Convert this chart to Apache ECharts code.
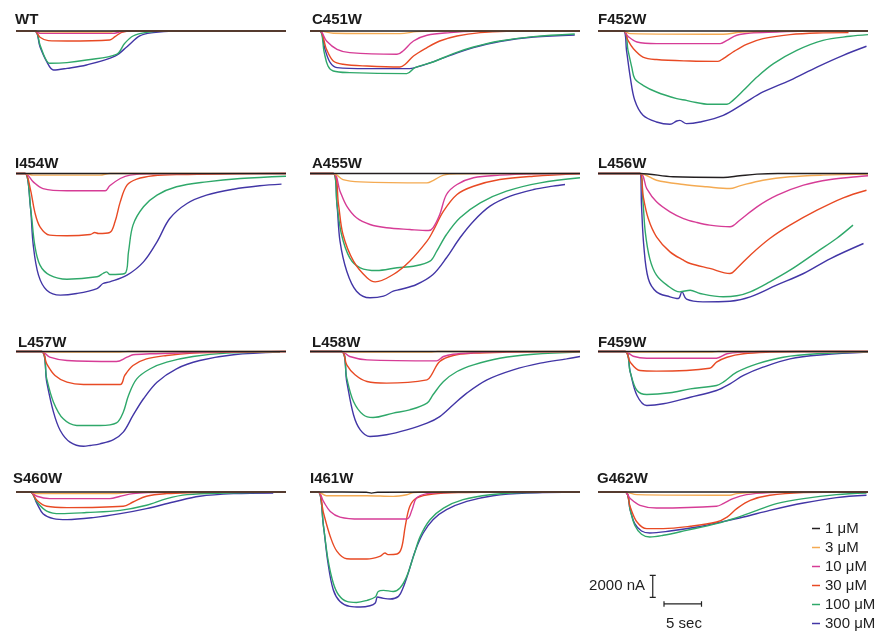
<!DOCTYPE html>
<html>
<head>
<meta charset="utf-8">
<script src="https://cdn.jsdelivr.net/npm/echarts@6/dist/echarts.min.js"></script>
<style>
html, body { margin: 0; padding: 0; background: #fff; }
#main { width: 896px; height: 640px; }
</style>
</head>
<body>
<div id="main"></div>
<script>
// concentrations and trace colours
var concs = ['1 μM', '3 μM', '10 μM', '30 μM', '100 μM', '300 μM'];
var colors = ['#231f20', '#f4aa52', '#d63c96', '#e84a24', '#2fa86a', '#4236a6'];

var panelNames = ['WT', 'C451W', 'F452W', 'I454W', 'A455W', 'L456W',
                  'L457W', 'L458W', 'F459W', 'S460W', 'I461W', 'G462W'];

// each panel: [1, 3, 10, 30, 100, 300 uM] traces as [time (s), current (nA)]
var WT = [
    [[36, 0]],
    [[2.5, 0], [3.2, -80], [12.5, -90], [13.5, 0], [36, 0]],
    [[2.5, 0], [3.2, -200], [12.9, -220], [14.0, -60], [14.8, 0], [36, 0]],
    [[2.5, 0], [3.2, -570], [4.3, -880], [6.8, -910], [12.5, -820], [13.2, -520], [14.1, -120], [15.6, 0], [36, 0]],
    [[2.5, 0], [3.2, -1270], [3.9, -2480], [4.5, -2940], [6.8, -2880], [9.4, -2640], [13.4, -2120], [14.5, -1120], [15.6, -455], [17.4, -120], [20.1, 0], [36, 0]],
    [[2.5, 0], [3.2, -1430], [4.1, -2790], [5.0, -3550], [6.8, -3400], [9.4, -3090], [13.2, -2280], [14.8, -1430], [16.5, -450], [18.3, -150], [21, 0], [36, 0]]
];
var C451W = [
    [[36, 0]],
    [[1.3, 0], [3.1, -210], [12, -240], [14.2, -60], [16.4, 0], [36, 0]],
    [[1.3, 0], [2.2, -910], [3.6, -1670], [5.3, -1970], [11.6, -2120], [12.4, -1820], [13.8, -910], [15.6, -390], [18.7, -150], [21.8, -30], [36, 0]],
    [[1.3, 0], [2.2, -1670], [3.1, -2730], [4.4, -3030], [7.6, -3190], [12, -3280], [12.7, -3030], [13.8, -2280], [15.6, -1510], [17.3, -910], [19.6, -455], [22.7, -150], [26.2, -30], [36, 0]],
    [[1.3, 0], [1.9, -1970], [2.4, -3190], [3.1, -3640], [5.3, -3790], [12.9, -3880], [14, -3330], [16.4, -2820], [19.1, -2060], [21.8, -1460], [25.3, -910], [29.8, -510], [35.3, -270]],
    [[1.3, 0], [2, -1670], [2.7, -2880], [3.6, -3330], [7.6, -3420], [13.3, -3420], [14.7, -3190], [16.4, -2810], [19.1, -2120], [21.8, -1510], [25.3, -960], [29.8, -550], [35.3, -360]]
];
var F452W = [
    [[36, 0]],
    [[3.4, 0], [4.3, -240], [16.7, -300], [18.9, -120], [21.2, -50], [24, 0], [36, 0]],
    [[3.4, 0], [4.0, -480], [5.2, -1000], [7.8, -1150], [16.3, -1150], [17.2, -850], [18.5, -390], [20.3, -180], [23.8, -90], [28, 0], [36, 0]],
    [[3.4, 0], [4.0, -850], [4.7, -1600], [6.0, -2370], [7.8, -2600], [12.3, -2730], [16.0, -2760], [16.7, -2510], [18, -1910], [19.8, -1210], [22, -690], [25.6, -330], [29.2, -180], [33.4, -150]],
    [[3.4, 0], [4.0, -1760], [4.5, -3280], [4.9, -4330], [6.0, -4940], [7.8, -5550], [10.5, -6150], [11.8, -6310], [12.3, -6400], [14.9, -6670], [17.2, -6670], [18, -6310], [19.4, -5400], [21.2, -4190], [23.4, -2970], [26.5, -1760], [30, -850], [33.6, -480], [36, -330]],
    [[3.4, 0], [3.8, -1760], [4.3, -4190], [4.9, -6310], [6.0, -7670], [7.8, -8280], [9.6, -8490], [10.5, -8190], [10.9, -8130], [11.8, -8430], [13.6, -8280], [16.7, -7670], [19.4, -6610], [22, -5550], [25.6, -4490], [29.2, -3280], [32.7, -2210], [35.8, -1390]]
];
var I454W = [
    [[36, 0]],
    [[1.2, 0], [2.3, -150], [11.2, -150], [12.5, 0], [36, 0]],
    [[1.2, 0], [2.3, -760], [3.6, -1370], [6.8, -1570], [11.9, -1570], [12.5, -1120], [13.9, -455], [15.2, -150], [17.9, -30], [36, 0]],
    [[1.2, 0], [1.9, -1370], [2.5, -3490], [3.2, -4850], [4.5, -5610], [6.8, -5670], [9.9, -5550], [10.5, -5370], [11, -5460], [12.5, -5370], [13.2, -4400], [13.9, -2580], [14.8, -1060], [16.1, -520], [18.3, -210], [21.9, -90], [28.9, -30], [36, 0]],
    [[1.2, 0], [2.0, -3490], [2.5, -6520], [3.2, -8340], [4.5, -9250], [6.8, -9620], [10.8, -9400], [11.6, -9100], [12.1, -8950], [12.5, -9190], [14.5, -9100], [15, -7130], [15.6, -4700], [17, -3030], [18.8, -1970], [21.4, -1210], [25.4, -760], [29.9, -455], [36, -245]],
    [[1.2, 0], [1.9, -2880], [2.3, -6520], [3.0, -9250], [4.1, -10620], [5.9, -11070], [8.1, -10920], [10.8, -10470], [11.6, -10010], [12.5, -9860], [14.8, -9250], [17, -8040], [18.8, -6220], [20.5, -4100], [22.8, -2730], [25.4, -1970], [29, -1430], [32.5, -1120], [35.4, -970]]
];
var A455W = [
    [[36, 0]],
    [[3.1, 0], [4.4, -550], [6.7, -760], [15.6, -850], [16.4, -640], [17.8, -150], [19.6, -30], [36, 0]],
    [[3.1, 0], [4.0, -1610], [4.9, -2970], [6.2, -4030], [8.0, -4640], [10.2, -4940], [13.3, -5100], [15.8, -5190], [16.4, -4940], [17.3, -3730], [18.2, -1910], [19.6, -1000], [21.8, -390], [25.3, -150], [29.8, -30], [36, 0]],
    [[3.1, 0], [3.8, -2820], [4.4, -5550], [5.8, -7980], [7.6, -9490], [8.7, -9860], [11.1, -9190], [13.3, -7980], [15.6, -6160], [16.4, -5250], [17.8, -3430], [19.6, -1910], [21.8, -1160], [25.3, -550], [29.8, -245], [36, -30]],
    [[3.1, 0], [3.6, -2820], [4.2, -5550], [5.3, -7670], [6.7, -8580], [8.9, -8830], [11.6, -8580], [13.8, -8440], [16, -7980], [16.9, -7070], [18.2, -5550], [20, -4030], [22.7, -2670], [26.2, -1610], [30.7, -850], [36, -390]],
    [[3.1, 0], [3.6, -2820], [4.0, -6160], [4.9, -8890], [6.2, -10710], [8.0, -11310], [9.8, -11160], [11.1, -10710], [12, -10560], [14.2, -10100], [16.4, -9190], [18.2, -7670], [20, -5850], [21.8, -4340], [24, -2970], [26.7, -2060], [29.8, -1460], [32.4, -1150], [34, -1000]]
];
var L456W = [
    [[5.6, 0], [10, -300], [16.7, -360], [18.9, -210], [21.2, -60], [24, 0], [36, 0]],
    [[5.6, 0], [7.8, -610], [11.4, -1000], [14.5, -1210], [17.6, -1370], [18.9, -1120], [22, -610], [25.6, -300], [30, -150], [36, -60]],
    [[5.6, 0], [6.5, -1370], [7.8, -2580], [9.6, -3490], [11.4, -4100], [13.2, -4460], [14.9, -4700], [17.6, -4850], [18.9, -4250], [21.2, -3030], [23.9, -1970], [27.4, -1060], [31, -550], [34.5, -300], [36, -210]],
    [[5.6, 0], [6.0, -1970], [6.7, -4100], [7.8, -5760], [9.6, -7130], [11.4, -7890], [12.3, -8190], [14.9, -8640], [17.6, -9100], [18.5, -8640], [20.3, -7430], [22.9, -5920], [25.6, -4700], [29.2, -3340], [32.7, -2210], [35.8, -1520]],
    [[5.6, 0], [6.0, -2580], [6.3, -5310], [6.9, -7740], [7.8, -9250], [9.2, -10160], [10.9, -10770], [12.3, -10620], [13.6, -10920], [16.7, -11220], [18.5, -11130], [20.3, -10770], [22.9, -9860], [25.6, -8800], [29.2, -7130], [31.8, -5920], [34, -4700]],
    [[5.6, 0], [5.8, -2880], [6.1, -6520], [6.7, -9560], [7.8, -10770], [9.6, -11220], [10.7, -11380], [11.2, -10770], [11.8, -11440], [14, -11680], [17.6, -11620], [20.3, -11220], [23.8, -10160], [27.4, -9100], [31, -7740], [35.4, -6370]]
];
var L457W = [
    [[36, 0]],
    [[3.4, 0], [4.1, -60], [13.5, -60], [15, 0], [36, 0]],
    [[3.4, 0], [4.5, -520], [6.8, -820], [13.4, -910], [14.8, -520], [15.6, -300], [17.9, -210], [22.3, -120], [28, -30], [36, 0]],
    [[3.4, 0], [4.1, -1120], [5.2, -2180], [6.8, -2790], [9.0, -3000], [13.9, -3000], [14.5, -2180], [15.6, -1270], [17.4, -670], [20.1, -360], [23.6, -150], [29, -60], [36, 0]],
    [[3.4, 0], [4.1, -2490], [5.0, -4610], [6.3, -6130], [8.1, -6730], [11.2, -6730], [13.4, -6490], [14.3, -5520], [15, -4000], [16.1, -2490], [17.9, -1570], [20.1, -970], [23.6, -455], [28.1, -150], [35.2, -60]],
    [[3.4, 0], [4.1, -2790], [5.0, -5520], [5.9, -7190], [7.2, -8250], [9.0, -8620], [9.9, -8550], [11.2, -8400], [13, -8010], [14.3, -7340], [15.6, -5820], [17, -4300], [18.8, -2790], [21.4, -1570], [24.5, -820], [29, -300], [35.2, -60]]
];
var L458W = [
    [[36, 0]],
    [[4.2, 0], [5, -60], [16, -60], [17, 0], [36, 0]],
    [[4.2, 0], [5.3, -455], [7.6, -760], [16.9, -850], [17.8, -455], [19.1, -245], [21.8, -120], [26, -30], [36, 0]],
    [[4.2, 0], [4.9, -1210], [6.0, -2120], [7.6, -2730], [10.2, -2880], [15.6, -2580], [16.2, -2120], [17.3, -910], [19.1, -360], [21.8, -150], [26.2, -60], [36, 0]],
    [[4.2, 0], [4.9, -2430], [5.8, -4550], [7.1, -5760], [8.4, -6010], [11.1, -5610], [13.3, -5310], [15.6, -4700], [16.4, -3940], [17.8, -2730], [19.6, -1820], [21.8, -1210], [25.3, -610], [29.8, -245], [36, -60]],
    [[4.2, 0], [4.9, -2730], [5.8, -5760], [6.7, -7130], [8.0, -7740], [10.2, -7580], [12.9, -7130], [15.6, -6520], [17.3, -5920], [19.1, -4850], [20.9, -3790], [23.6, -2580], [27.1, -1670], [30.7, -1060], [34.2, -670], [36, -455]]
];
var F459W = [
    [[36, 0]],
    [[3.6, 0], [4.5, -60], [15, -60], [16, 0], [36, 0]],
    [[3.6, 0], [4.7, -430], [6.5, -610], [15.8, -610], [17.2, -210], [19.4, -60], [22, 0], [36, 0]],
    [[3.6, 0], [4.3, -970], [5.6, -1730], [7.8, -1790], [14.9, -1520], [15.8, -970], [17.2, -520], [19.4, -210], [22.9, -60], [27, 0], [36, 0]],
    [[3.6, 0], [4.3, -1880], [5.2, -3550], [6.5, -3910], [9.6, -3760], [12.3, -3400], [15.8, -3090], [16.7, -2790], [18.5, -1880], [21.2, -1120], [24.7, -520], [29.2, -210], [36, -60]],
    [[3.6, 0], [4.3, -1880], [5.2, -4000], [6.5, -4910], [8.7, -4760], [12.3, -4160], [15.8, -3550], [17.6, -2940], [19.4, -2180], [22, -1430], [25.6, -670], [30, -300], [36, -60]]
];
var S460W = [
    [[36, 0]],
    [[1.9, 0], [2.8, -150], [13.4, -150], [15.6, 0], [36, 0]],
    [[1.9, 0], [2.8, -390], [4.5, -600], [12.5, -600], [13.9, -390], [15.6, -150], [17.9, -55], [22, 0], [36, 0]],
    [[1.9, 0], [2.8, -760], [4.1, -1300], [6.8, -1420], [14.3, -1300], [15.6, -910], [17.4, -390], [20.1, -150], [23.6, -55], [28, 0], [36, 0]],
    [[1.9, 0], [2.8, -910], [4.1, -1730], [5.9, -1970], [9.4, -1870], [13.9, -1670], [17.4, -1210], [20.1, -600], [22.8, -240], [28.1, -90], [36, 0]],
    [[1.9, 0], [2.8, -1060], [3.6, -1970], [5.0, -2420], [6.8, -2510], [10.3, -2330], [13.9, -1970], [17.4, -1510], [21, -910], [24.5, -390], [29, -150], [34.3, -90]]
];
var I461W = [
    [[1.1, 0], [7.5, -20], [8.2, -100], [9, -20], [36, 0]],
    [[1.1, 0], [2.2, -340], [7.6, -340], [11.1, -400], [12.9, -245], [13.8, -40], [15, 0], [36, 0]],
    [[1.1, 0], [1.8, -860], [2.7, -1770], [4, -2280], [6.7, -2460], [12.9, -2460], [13.6, -1610], [14.2, -550], [15.6, -150], [17.8, -40], [20, 0], [36, 0]],
    [[1.1, 0], [1.8, -1910], [2.7, -4040], [3.6, -5410], [4.9, -6070], [7.6, -6100], [9.3, -5860], [10, -5550], [10.4, -5700], [11.6, -5640], [12.2, -5100], [12.7, -3130], [13.3, -1310], [14.2, -550], [16.4, -180], [20.9, -40], [25, 0], [36, 0]],
    [[1.1, 0], [1.8, -3130], [2.4, -6160], [3.1, -8280], [3.8, -9350], [4.9, -9960], [6.2, -10050], [7.6, -9860], [8.7, -9560], [9.1, -9050], [9.8, -8950], [11.1, -9050], [12, -8740], [12.9, -7680], [13.8, -5860], [14.7, -4040], [16, -2520], [17.8, -1460], [20.4, -700], [24, -245], [28.9, -40], [36, 0]],
    [[1.1, 0], [1.8, -3130], [2.4, -6460], [3.1, -8890], [4, -9960], [5.3, -10410], [6.7, -10470], [8, -10350], [8.7, -10100], [9, -9560], [9.6, -9650], [10.7, -9740], [11.8, -9500], [12.4, -8740], [13.1, -7370], [14, -5410], [15.1, -3730], [16.4, -2520], [18.2, -1610], [20.9, -860], [24.4, -340], [28.9, -90], [36, 0]]
];
var G462W = [
    [[36, 0]],
    [[3.6, 0], [5.2, -240], [17.6, -300], [18.5, -150], [20.3, -55], [24, 0], [36, 0]],
    [[3.6, 0], [4.3, -600], [5.6, -1210], [7.8, -1460], [15.8, -1300], [16.7, -1060], [18, -600], [19.8, -240], [22.9, -55], [27, 0], [36, 0]],
    [[3.6, 0], [4.3, -1370], [5.2, -2730], [6.5, -3330], [8.7, -3330], [12.3, -3120], [15.8, -2730], [17.2, -2280], [18.5, -1510], [20.3, -760], [22.9, -300], [27.4, -55], [34, 0], [36, 0]],
    [[3.6, 0], [4.3, -1670], [4.9, -3030], [5.8, -3850], [6.9, -4100], [8.7, -3940], [11.8, -3490], [15.8, -2880], [18.5, -2330], [21.2, -1670], [23.8, -1060], [27.4, -600], [31.8, -240], [35.8, -90]],
    [[3.6, 0], [4.3, -1670], [4.9, -2880], [5.8, -3550], [6.9, -3730], [9.6, -3550], [13.2, -3190], [15.8, -2820], [19.4, -2280], [22.9, -1670], [27.4, -1000], [31.8, -510], [35.8, -300]]
];

var panels = [WT, C451W, F452W, I454W, A455W, L456W, L457W, L458W, F459W, S460W, I461W, G462W];

// scale bars: 2000 nA vertical, 5 sec horizontal
var scaleV = [[1.7, -400], [1.7, -2400]];
var scaleH = [[3.2, -3000], [8.2, -3000]];

// layout (pixels); every grid shares the same nA/px and s/px
var colLeft = [16, 310, 598];
var rowBase = [31, 173.5, 351.5, 492];
var titleLeft = [15, 312, 598, 15, 312, 598, 18, 312, 598, 13, 310, 597];
var titleTop = [12, 12, 12, 156, 156, 156, 335, 335, 335, 471, 471, 471];
var W = 270, X_MAX = 36, Y_MAX = 1000, NA_PER_PX = 91;

var grids = [], xAxes = [], yAxes = [], series = [], titles = [];

function addGrid(left, top, h) {
    var idx = grids.length;
    grids.push({ left: left, top: top, width: W, height: h, outerBoundsMode: 'none' });
    xAxes.push({ gridIndex: idx, type: 'value', min: 0, max: X_MAX, show: false });
    yAxes.push({ gridIndex: idx, type: 'value', min: Y_MAX - h * NA_PER_PX, max: Y_MAX, show: false });
    return idx;
}

panels.forEach(function (traces, i) {
    var col = i % 3, row = Math.floor(i / 3);
    var g = addGrid(colLeft[col], rowBase[row] - Y_MAX / NA_PER_PX, 146);
    titles.push({
        text: panelNames[i], left: titleLeft[i], top: titleTop[i], padding: 0,
        textStyle: { fontSize: 15, fontWeight: 'bold', color: '#1a1a1a', fontFamily: 'Liberation Sans, Arial' }
    });
    // draw high concentrations first so the baseline ends up on top
    for (var j = traces.length - 1; j >= 0; j--) {
        series.push({
            type: 'line', name: concs[j], xAxisIndex: g, yAxisIndex: g,
            data: [[0, 0]].concat(traces[j]),
            showSymbol: false, smooth: 0.35,
            lineStyle: { color: colors[j], width: 1.4 },
            itemStyle: { color: colors[j] },
            silent: true, clip: false
        });
    }
});

// grid used only for scale bars
var sg = addGrid(640, 560, 70);
var barStyle = { color: '#222', width: 1.2 };
function bar(d) {
    series.push({
        type: 'line', xAxisIndex: sg, yAxisIndex: sg, data: d,
        showSymbol: false, lineStyle: barStyle, silent: true, clip: false
    });
}
bar(scaleV);
bar([[scaleV[0][0] - 0.4, scaleV[0][1]], [scaleV[0][0] + 0.4, scaleV[0][1]]]);
bar([[scaleV[1][0] - 0.4, scaleV[1][1]], [scaleV[1][0] + 0.4, scaleV[1][1]]]);
bar(scaleH);
bar([[scaleH[0][0], scaleH[0][1] + 250], [scaleH[0][0], scaleH[0][1] - 250]]);
bar([[scaleH[1][0], scaleH[1][1] + 250], [scaleH[1][0], scaleH[1][1] - 250]]);

var labelFont = { fontSize: 15, fill: '#222', fontFamily: 'Liberation Sans, Arial' };
var chart = echarts.init(document.getElementById('main'));
chart.setOption({
    animation: false,
    backgroundColor: '#fff',
    title: titles,
    grid: grids,
    xAxis: xAxes,
    yAxis: yAxes,
    legend: {
        data: concs, orient: 'vertical', left: 812, top: 521,
        icon: 'rect', itemWidth: 8, itemHeight: 1.5, itemGap: 4,
        selectedMode: false, padding: 0,
        textStyle: { fontSize: 15, color: '#222', fontFamily: 'Liberation Sans, Arial' }
    },
    graphic: [
        { type: 'text', x: 645, y: 586, style: Object.assign({ text: '2000 nA', align: 'right', verticalAlign: 'middle' }, labelFont) },
        { type: 'text', x: 684, y: 624, style: Object.assign({ text: '5 sec', align: 'center', verticalAlign: 'middle' }, labelFont) }
    ],
    series: series
});
</script>
</body>
</html>
